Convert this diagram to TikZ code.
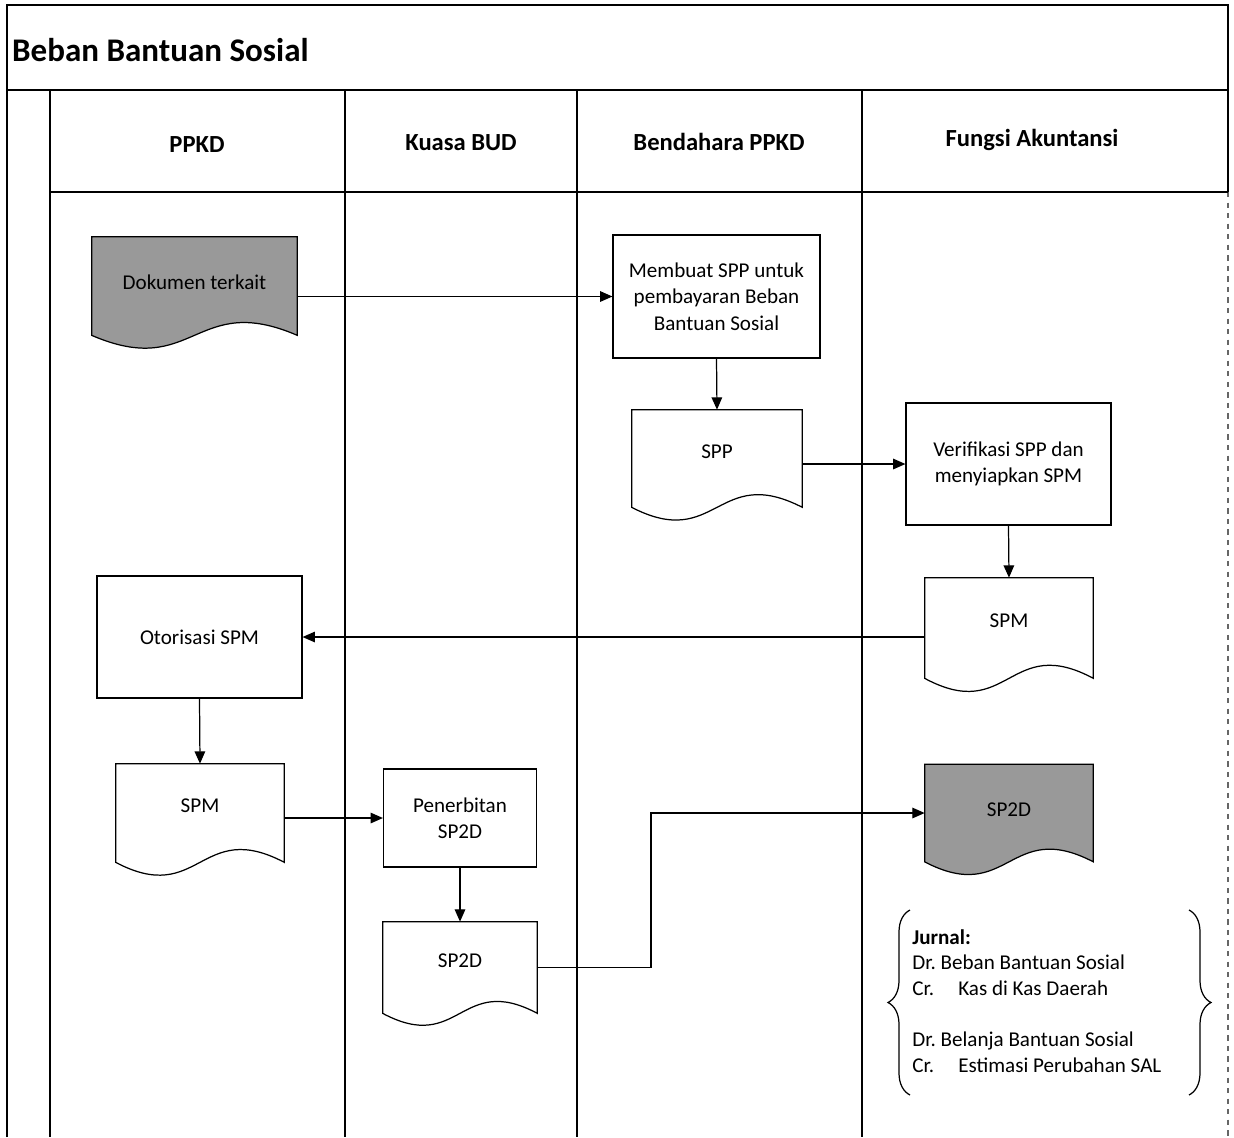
\documentclass[tikz,border=0pt]{standalone}
\usepackage{fontspec}
\setmainfont{Carlito}
\usetikzlibrary{arrows.meta,calc,decorations.pathreplacing}

% outline of a document symbol: flat top, straight sides, wavy bottom
\newcommand\docoutline[2][]{%
  \path[#1] let \p1=($(#2.north)-(#2.south)$) in
    (#2.south west) -- (#2.north west) -- (#2.north east) -- (#2.south east)
    .. controls ($(#2.south)+(0,0.45*\y1)$) and ($(#2.south)+(0,-0.45*\y1)$) .. (#2.south west) -- cycle;}

\begin{document}
\begin{tikzpicture}[x=0.02cm,y=-0.02cm,
  lane/.style={line width=0.8pt},
  sepline/.style={line width=1.6pt},
  procbox/.style={draw,line width=0.7pt,rectangle,align=center,inner sep=2pt,
    font=\fontsize{12}{15}\selectfont},
  docnode/.style={rectangle,align=center,inner sep=2pt,font=\fontsize{12}{15}\selectfont,
    text height=9pt,text depth=9.3pt},
  doctext/.style={font=\fontsize{12}{15}\selectfont,yshift=2pt},
  docline/.style={draw,line width=0.7pt},
  docshade/.style={draw,line width=0.7pt,fill=black!40},
  lanehead/.style={font=\bfseries\fontsize{14}{16}\selectfont},
  flow/.style={line width=0.7pt,-{Triangle[length=7pt,width=6pt]}}]

\useasboundingbox (0,0) rectangle (1234,1137);

% frame and swimlanes
\draw[lane] (7,1137) -- (7,5) -- (1228,5) -- (1228,192);
\draw[lane,dashed,black!60] (1228,192) -- (1228,1137);
\draw[sepline] (7,90) -- (1228,90);
\draw[sepline] (50,192) -- (1228,192);
\draw[lane] (50,90) -- (50,1137);
\draw[lane] (345,90) -- (345,1137);
\draw[lane] (577,90) -- (577,1137);
\draw[lane] (862,90) -- (862,1137);

\node[anchor=west,font=\bfseries\fontsize{18.8}{22}\selectfont] (title) at (6,50) {Beban Bantuan Sosial};
\node[lanehead] (h1) at (197,145) {PPKD};
\node[lanehead] (h2) at (461,143) {Kuasa BUD};
\node[lanehead] (h3) at (719,142) {Bendahara PPKD};
\node[lanehead] (h4) at (1032,140) {Fungsi Akuntansi};

% documents
\node[docnode,minimum width=4.1cm,minimum height=1.96cm] (dok) at (194.5,286) {};
\docoutline[docshade]{dok}
\node[doctext] (doktext) at (dok.center) {Dokumen terkait};

\node[docnode,minimum width=3.4cm,minimum height=1.94cm] (spp) at (717,458.5) {SPP};
\docoutline[docline]{spp}

\node[docnode,minimum width=3.36cm,minimum height=2.0cm] (spmb) at (1009,628) {SPM};
\docoutline[docline]{spmb}

\node[docnode,minimum width=3.36cm,minimum height=1.96cm] (spma) at (200,813) {SPM};
\docoutline[docline]{spma}

\node[docnode,minimum width=3.08cm,minimum height=1.82cm] (spd) at (460,967.5) {SP2D};
\docoutline[docline]{spd}

\node[docnode,minimum width=3.36cm,minimum height=1.94cm] (spdb) at (1009,813) {};
\docoutline[docshade]{spdb}
\node[doctext] (spdbtext) at (spdb.center) {SP2D};

% processes
\node[procbox,minimum width=4.14cm,minimum height=2.46cm] (mspp) at (716.5,296.5)
  {Membuat SPP untuk\\pembayaran Beban\\Bantuan Sosial};
\node[procbox,minimum width=4.1cm,minimum height=2.44cm] (verif) at (1008.5,464)
  {Verifikasi SPP dan\\menyiapkan SPM};
\node[procbox,minimum width=4.1cm,minimum height=2.44cm] (otor) at (199.5,637) {Otorisasi SPM};
\node[procbox,minimum width=3.06cm,minimum height=1.96cm] (pener) at (460,818) {Penerbitan\\SP2D};

% flow
\draw[flow] (dok.east |- mspp.west) -- (mspp.west);
\draw[flow] (mspp.south) -- (spp.north);
\draw[flow] (spp.east |- verif.west) -- (verif.west);
\draw[flow] (verif.south) -- (spmb.north);
\draw[flow] (spmb.west |- otor.east) -- (otor.east);
\draw[flow] (otor.south) -- (spma.north);
\draw[flow] (spma.east |- pener.west) -- (pener.west);
\draw[flow] (pener.south) -- (spd.north);
\coordinate (jog) at (651,900);
\draw[flow] (spd.east) -| (jog) |- (spdb.west);

% journal entries
\node[anchor=north west,align=left,font=\fontsize{12}{14.6}\selectfont,inner sep=0pt] (jurnal) at (912,929)
  {\textbf{Jurnal:}\\
   Dr.\ Beban Bantuan Sosial\\
   \makebox[0.92cm][l]{Cr.}Kas di Kas Daerah\\[14.6pt]
   Dr.\ Belanja Bantuan Sosial\\
   \makebox[0.92cm][l]{Cr.}Estimasi Perubahan SAL};
\coordinate (bl1) at (910,1095);
\coordinate (bl2) at (910,910);
\coordinate (br1) at (1189,910);
\coordinate (br2) at (1189,1095);
\draw[line width=0.7pt,decorate,decoration={brace,amplitude=0.44cm}] (bl1) -- (bl2);
\draw[line width=0.7pt,decorate,decoration={brace,amplitude=0.44cm}] (br1) -- (br2);
\end{tikzpicture}
\end{document}
